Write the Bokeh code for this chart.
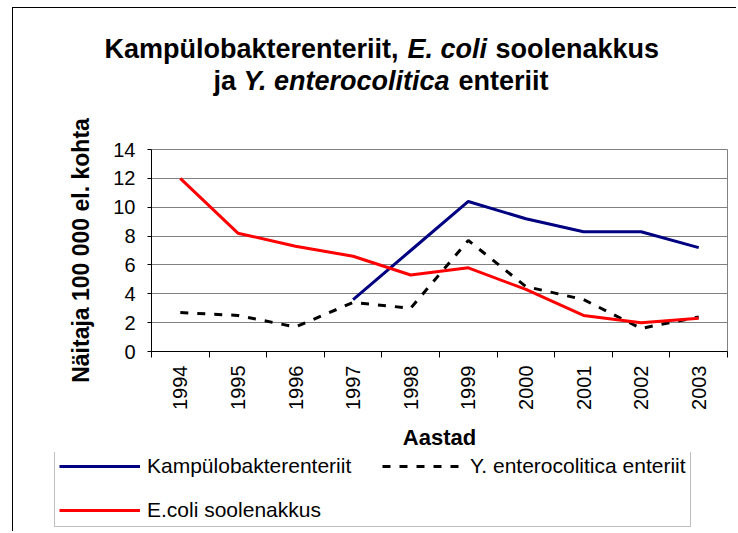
import math
from bokeh.plotting import figure
from bokeh.layouts import column, row
from bokeh.models import (Range1d, FixedTicker, Legend, LegendItem, Label, ColumnDataSource)
from bokeh.embed import file_html
from bokeh.resources import INLINE

years = ["1994", "1995", "1996", "1997", "1998", "1999", "2000", "2001", "2002", "2003"]
kampulo = [None, None, None, 3.6, 7.0, 10.4, 9.2, 8.3, 8.3, 7.2]
ecoli = [12.0, 8.2, 7.3, 6.6, 5.3, 5.8, 4.3, 2.5, 2.0, 2.3]
yersinia = [2.7, 2.5, 1.7, 3.4, 3.0, 7.7, 4.5, 3.6, 1.6, 2.4]
y_ticks = [0, 2, 4, 6, 8, 10, 12, 14]
series_cols = ["kampulo", "yersinia", "ecoli"]
series_names = ["Kampülobakterenteriit", "Y. enterocolitica enteriit", "E.coli soolenakkus"]
series_colors = ["#000080", "black", "#FF0000"]
series_dash = ["solid", "8 9", "solid"]

FONT = "Liberation Sans"
W = 736

xs = [i + 0.5 for i in range(len(years))]
def nan(v):
    return float("nan") if v is None else v

src = ColumnDataSource(dict(
    x=xs,
    kampulo=[nan(v) for v in kampulo],
    ecoli=ecoli,
    yersinia=yersinia,
))

def bare(h):
    f = figure(width=W, height=h, output_backend="svg", toolbar_location=None,
               x_axis_location=None, y_axis_location=None,
               x_range=Range1d(0, 1), y_range=Range1d(0, 1), min_border=0)
    f.grid.visible = False
    f.outline_line_color = None
    f.background_fill_alpha = 0
    f.border_fill_alpha = 0
    return f

# ---- title strip (canvas y 0..100) ----
TH = 100
pt = bare(TH)
segs = [
    ("Kampülobakterenteriit,", "bold", 104, 48),
    ("E. coli", "bold italic", 407, 48),
    ("soolenakkus", "bold", 495, 48),
    ("ja", "bold", 213, 80),
    ("Y. enterocolitica", "bold italic", 243, 80),
    ("enteriit", "bold", 458, 80),
]
for t, st, x, y in segs:
    pt.add_layout(Label(x=x, y=TH - y, x_units="screen", y_units="screen", text=t,
                        text_font=FONT, text_font_style=st, text_font_size="27px",
                        text_color="black", text_baseline="alphabetic", text_align="left"))

# ---- main chart (canvas y 100..452) ----
MH = 352
FL, FR = 151, 727
p = figure(width=W, height=MH, output_backend="svg", toolbar_location=None,
           x_range=Range1d(0, len(years)), y_range=Range1d(0, 14),
           min_border_left=FL, min_border_right=W - FR, min_border_top=49, min_border_bottom=101)
p.background_fill_color = "white"
p.border_fill_alpha = 0
p.outline_line_color = "#808080"
p.outline_line_width = 1
p.xgrid.grid_line_color = None
p.ygrid.grid_line_color = "#808080"
p.ygrid.grid_line_width = 1

p.xaxis.ticker = FixedTicker(ticks=xs, minor_ticks=list(range(len(years) + 1)))
p.xaxis.major_label_overrides = {x: y for x, y in zip(xs, years)}
p.xaxis.major_tick_line_color = None
p.xaxis.major_tick_out = 6
p.xaxis.minor_tick_line_color = "black"
p.xaxis.minor_tick_out = 6
p.xaxis.minor_tick_in = 0
p.xaxis.major_label_orientation = math.pi / 2
p.xaxis.major_label_standoff = 8
p.xaxis.major_label_text_font = FONT
p.xaxis.major_label_text_font_size = "20px"
p.xaxis.major_label_text_color = "black"
p.xaxis.axis_line_color = "black"
p.xaxis.axis_label = "Aastad"
p.xaxis.axis_label_text_font = FONT
p.xaxis.axis_label_text_font_style = "bold"
p.xaxis.axis_label_text_font_size = "22px"
p.xaxis.axis_label_text_color = "black"
p.xaxis.axis_label_standoff = 12

p.yaxis.ticker = FixedTicker(ticks=y_ticks)
p.yaxis.major_tick_out = 4
p.yaxis.major_tick_in = 0
p.yaxis.minor_tick_line_color = None
p.yaxis.major_tick_line_color = "black"
p.yaxis.axis_line_color = "black"
p.yaxis.major_label_standoff = 12
p.yaxis.major_label_text_font = FONT
p.yaxis.major_label_text_font_size = "20px"
p.yaxis.major_label_text_color = "black"
p.yaxis.axis_label = "Näitaja 100 000 el. kohta"
p.yaxis.axis_label_text_font = FONT
p.yaxis.axis_label_text_font_style = "bold"
p.yaxis.axis_label_text_font_size = "23px"
p.yaxis.axis_label_text_color = "black"
p.yaxis.axis_label_standoff = 16

for c, col, dash in zip(series_cols, series_colors, series_dash):
    p.line("x", c, source=src, line_color=col, line_width=3, line_dash=dash)

# ---- legend strip (canvas y 452..531) ----
LH = 79
pl = bare(LH)
items = []
for c, name, col, dash in zip(series_cols, series_names, series_colors, series_dash):
    r = pl.line("x", c, source=src, line_color=col, line_width=3, line_dash=dash, visible=False)
    items.append(LegendItem(label=name, renderers=[r]))
legend = Legend(items=items, location=(54, 4), orientation="horizontal", ncols=2)
legend.label_text_font = FONT
legend.label_text_font_size = "21px"
legend.label_text_color = "black"
legend.glyph_width = 81
legend.glyph_height = 22
legend.label_height = 22
legend.label_width = 215
legend.label_standoff = 7
legend.spacing = 20
legend.padding = 4
legend.margin = 0
legend.inactive_fill_alpha = 0
legend.border_line_color = "#808080"
legend.border_line_width = 1
legend.background_fill_color = "white"
legend.background_fill_alpha = 1
pl.add_layout(legend, "center")

layout = column(row(pt), p, row(pl), spacing=0, styles={
    "background": "linear-gradient(#000,#000) 12px 7px / 1px 100% no-repeat, "
                  "linear-gradient(#000,#000) 12px 7px / 100% 1px no-repeat, white"})

open("out.html", "w").write(file_html(layout, INLINE))
